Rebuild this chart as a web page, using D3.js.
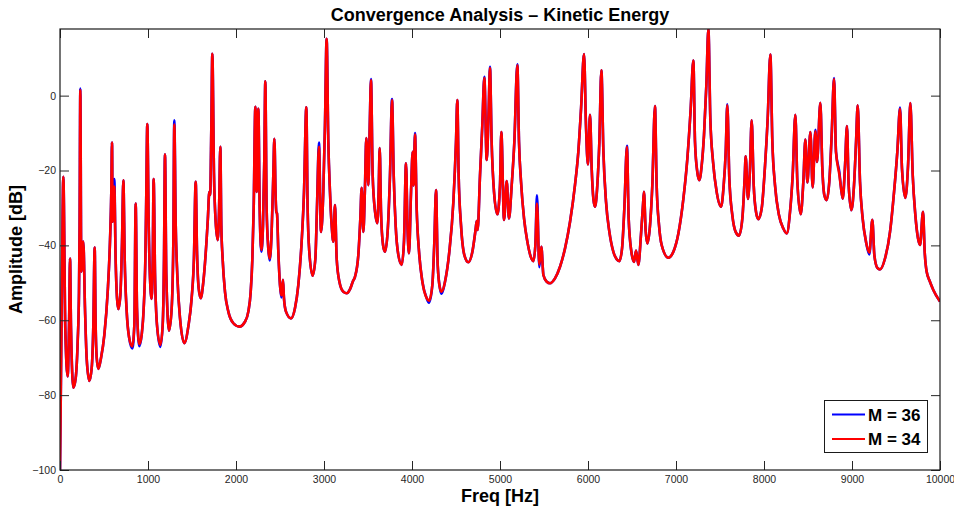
<!DOCTYPE html>
<html>
<head>
<meta charset="utf-8">
<script src="https://cdn.jsdelivr.net/npm/d3@7"></script>
<style>
  html, body { margin: 0; padding: 0; background: #fff; }
  svg { display: block; }
  text { font-family: "Liberation Sans", Arial, Helvetica, sans-serif; }
</style>
</head>
<body>
<svg id="chart" width="954" height="511"></svg>
<script>
// Frequency axis samples [Hz]
const freq = [
  0, 20, 38, 60, 87, 105, 114, 125, 152, 178, 201, 216, 223, 231, 242, 265, 284, 303, 333, 360,
  379, 394, 405, 417, 436, 466, 504, 542, 568, 583, 591, 598, 617, 632, 648, 663, 686, 705, 720, 735,
  758, 784, 822, 845, 860, 875, 901, 928, 951, 970, 981, 992, 1008, 1023, 1042, 1054, 1064, 1080, 1102, 1140,
  1167, 1182, 1193, 1208, 1239, 1269, 1288, 1299, 1315, 1333, 1364, 1413, 1458, 1496, 1522, 1542, 1557, 1576, 1599, 1629,
  1667, 1680, 1697, 1706, 1720, 1731, 1750, 1769, 1792, 1807, 1822, 1833, 1848, 1875, 1913, 1970, 2038, 2102, 2140, 2167,
  2186, 2201, 2220, 2235, 2254, 2269, 2288, 2307, 2322, 2333, 2348, 2367, 2383, 2405, 2424, 2436, 2451, 2458, 2466, 2481,
  2500, 2515, 2534, 2545, 2568, 2625, 2670, 2708, 2746, 2773, 2799, 2814, 2833, 2871, 2902, 2920, 2943, 2966, 2992, 3011,
  3030, 3049, 3068, 3087, 3106, 3125, 3144, 3175, 3220, 3258, 3296, 3330, 3352, 3390, 3413, 3428, 3447, 3465, 3481, 3504,
  3520, 3534, 3553, 3580, 3606, 3621, 3633, 3648, 3671, 3693, 3723, 3750, 3773, 3792, 3814, 3845, 3883, 3909, 3932, 3950,
  3966, 3989, 4008, 4018, 4034, 4053, 4080, 4118, 4167, 4193, 4231, 4254, 4273, 4292, 4318, 4337, 4375, 4424, 4470, 4500,
  4515, 4530, 4557, 4595, 4640, 4686, 4724, 4735, 4746, 4773, 4799, 4822, 4849, 4870, 4886, 4905, 4932, 4970, 5000, 5015,
  5046, 5076, 5102, 5133, 5163, 5197, 5216, 5239, 5273, 5311, 5349, 5379, 5402, 5420, 5447, 5470, 5493, 5531, 5568, 5625,
  5682, 5739, 5796, 5852, 5890, 5921, 5955, 5977, 5999, 6023, 6042, 6061, 6080, 6106, 6129, 6152, 6175, 6205, 6243, 6288,
  6326, 6356, 6387, 6413, 6443, 6462, 6493, 6523, 6546, 6572, 6602, 6625, 6636, 6655, 6675, 6705, 6731, 6761, 6780, 6807,
  6837, 6913, 6970, 7027, 7084, 7129, 7167, 7197, 7216, 7242, 7265, 7292, 7318, 7345, 7368, 7390, 7421, 7462, 7512, 7542,
  7565, 7583, 7606, 7640, 7678, 7716, 7754, 7780, 7792, 7818, 7840, 7860, 7883, 7909, 7936, 7974, 8012, 8042, 8072, 8095,
  8125, 8170, 8220, 8258, 8296, 8326, 8356, 8379, 8417, 8447, 8470, 8493, 8527, 8553, 8584, 8603, 8640, 8663, 8686, 8712,
  8742, 8769, 8796, 8818, 8857, 8876, 8895, 8921, 8943, 8962, 8993, 9023, 9046, 9065, 9091, 9121, 9159, 9197, 9231, 9254,
  9288, 9318, 9375, 9432, 9478, 9515, 9546, 9568, 9606, 9637, 9663, 9690, 9720, 9750, 9773, 9807, 9826, 9848, 9886, 9924,
  10000
];

// Kinetic energy amplitude [dB], M = 34 modes
const m34 = [
  -100, -55, -21.7, -62, -75, -58, -43.5, -62, -78, -75.5, -65.7, -52.4, -34.6, 1.5, -47, -39, -56.8, -70.1, -76.2, -72.8,
  -61.2, -40.6, -61.2, -70, -73, -70.1, -63.9, -52.4, -39, -25.7, -12.5, -33.7, -24.3, -43.5, -54.1, -57, -53.2, -39, -22.6, -43.5,
  -57.7, -64.4, -67, -61.2, -28.8, -56.8, -66.4, -63.9, -56.8, -43.5, -25.7, -7.6, -34.6, -48.8, -54.3, -43.5, -22.3, -47.9, -61.2, -66.6,
  -61.2, -43.5, -15.7, -47.9, -62.8, -56.8, -39, -7.7, -34.6, -47.9, -59.5, -66.1, -61.7, -54.1, -43.5, -23, -41.7, -51.5, -54.1, -49.7,
  -38.1, -33, -25.7, -26.5, -8, 11.2, -21.2, -33.7, -38.6, -31, -13.7, -34.6, -43.5, -52.4, -57.7, -60.8, -61.7, -60.4, -57.7, -52.4,
  -43.5, -30.1, -3.0, -25.7, -3.5, -30.1, -41.2, -34.6, -16.8, 3.8, -30.1, -40.8, -43.5, -36.4, -21.2, -11.5, -27.5, -31, -31.5, -41.7,
  -50.6, -53.4, -49.2, -54.1, -57.7, -59.5, -56.8, -50.6, -39, -25.7, -3.1, -30.1, -41.7, -48.1, -43.5, -30.1, -13.7, -36.4, -25.7, -7.9,
  15.2, -12.4, -25.7, -34.6, -39, -29.2, -43.5, -49.7, -52.4, -52.8, -51.7, -49.5, -48.4, -42.6, -32.8, -24.6, -36.4, -25, -11.3, -23.9,
  -8, 4.1, -21.2, -31, -34.1, -25.7, -14, -31, -39.9, -41.7, -36.4, -21.2, -1.2, -21.2, -34.6, -42.6, -45.2, -39, -18.1, -36,
  -42.1, -25.7, -15, -24, -10.4, -30.1, -41.7, -49.7, -54.1, -54.8, -50.6, -39, -25.2, -45.2, -51.5, -52.4, -49.7, -41.7, -28.4, -12.4,
  -1.2, -21.2, -34.6, -42.6, -44.5, -41.7, -35.5, -33.5, -35.9, -21.2, -7.9, 4.7, -17.2, -5, 7.4, -12.4, -25.7, -31.7, -23.9, -9.7,
  -33.2, -22.8, -32.8, -23.9, -12.4, 8.1, -12.4, -23, -32.8, -39, -43, -44.2, -39.9, -28.8, -45.1, -40.4, -47.9, -49.7, -50.1, -48.8,
  -45.7, -40.8, -33.7, -23.9, -15, -3.5, 11.1, -7.9, -18.4, -5.1, -19.5, -27.5, -29.7, -23.9, -12.4, 6.8, -15, -28.4, -36.4, -41.7,
  -43.7, -44.2, -40.8, -30.1, -13.7, -32.8, -41.7, -44.4, -41.4, -45.2, -37.2, -29.2, -25.7, -36, -39.5, -34.6, -23.9, -2.8, -23.9, -34.6,
  -39.9, -43.3, -41.7, -36.8, -27.5, -16.8, -3.5, 9.4, -12.4, -20.4, -22.6, -18.6, -10.6, 2.8, 17.8, -6.1, -17.7, -25.7, -29.7, -23.9,
  -15, -2.6, -22.1, -31.9, -36.4, -37.4, -32.8, -22.1, -16.2, -27.6, -20, -6.6, -23.9, -31, -33, -30.1, -18.6, -6.1, 11.0, -12.4,
  -23.9, -31.9, -35.5, -36.8, -31, -21.2, -5.1, -23, -31.7, -23, -11.7, -23.2, -9.7, -24.5, -9.5, -17.7, -1.9, -19.5, -26.6, -27.9,
  -23, -10.6, 4.4, -15, -21.2, -24.8, -27.5, -18.6, -8.1, -23.9, -30.6, -23.9, -12.4, -2.6, -23, -32.8, -39, -41.9, -33.2, -42.6,
  -46, -46.4, -43.5, -36.4, -25.7, -15, -3.5, -19.5, -27.3, -18.6, -2.0, -21.2, -31.9, -38.1, -39.9, -31, -41.7, -47, -49.7, -51.9,
  -55
];

// M = 36 differs from M = 34 only at these samples: [Hz, dB]
const m36Diff = [
  [231, 1.9], [617, -22.3], [822, -67.5], [901, -66.9], [1140, -67.1], [1299, -6.6],
  [2288, -41.7], [2383, -44.0], [2515, -53.9], [2943, -12.5], [3534, 4.4], [3773, -0.9],
  [4034, -10.0], [4193, -55.3], [4337, -52.9], [4822, 5.0], [4886, 7.7], [5197, 8.4],
  [5420, -26.6], [5447, -45.8], [6443, -13.4], [7583, -2.3], [8584, -9.1], [8796, 4.7],
  [8857, -20.6], [9197, -42.4], [9546, -3.2]
];

const xTicks = [0, 1000, 2000, 3000, 4000, 5000, 6000, 7000, 8000, 9000, 10000];
const yTicks = [-100, -80, -60, -40, -20, 0];
const seriesNames = ["M = 36", "M = 34"];
const seriesColors = ["#0000ff", "#ff0000"];

const m36Map = new Map(m36Diff);
const m36 = freq.map((f, i) => m36Map.has(f) ? m36Map.get(f) : m34[i]);

const svg = d3.select("#chart");
const plot = { left: 60, right: 940, top: 29, bottom: 470 };

const x = d3.scaleLinear().domain([0, 10000]).range([plot.left, plot.right]);
const y = d3.scaleLinear().domain([-100, 17.8]).range([plot.bottom, plot.top]);

svg.append("defs").append("clipPath").attr("id", "plotClip")
  .append("rect")
  .attr("x", plot.left).attr("y", plot.top)
  .attr("width", plot.right - plot.left).attr("height", plot.bottom - plot.top);

// Curves
const line = d3.line()
  .x(d => x(d[0]))
  .y(d => y(d[1]))
  .curve(d3.curveMonotoneX);

const curves = svg.append("g").attr("clip-path", "url(#plotClip)");
[m36, m34].forEach((vals, k) => {
  curves.append("path")
    .datum(freq.map((f, i) => [f, vals[i]]))
    .attr("fill", "none")
    .attr("stroke", seriesColors[k])
    .attr("stroke-width", 2.6)
    .attr("stroke-linejoin", "round")
    .attr("d", line);
});

// Axes (ticks point inward, mirrored on all four sides)
const tickColor = "#262626";
function styleAxis(g, hideLabels) {
  g.select(".domain").remove();
  g.selectAll(".tick line").attr("stroke", tickColor).attr("stroke-width", 1);
  g.selectAll(".tick text").attr("fill", tickColor).style("font-size", "10.5px");
  if (hideLabels) g.selectAll(".tick text").remove();
}

svg.append("g")
  .attr("transform", `translate(0,${plot.bottom})`)
  .call(d3.axisBottom(x).tickValues(xTicks).tickSizeInner(-9).tickSizeOuter(0).tickPadding(6).tickFormat(d3.format("d")))
  .call(g => styleAxis(g, false));

svg.append("g")
  .attr("transform", `translate(0,${plot.top})`)
  .call(d3.axisTop(x).tickValues(xTicks).tickSizeInner(-9).tickSizeOuter(0))
  .call(g => styleAxis(g, true));

svg.append("g")
  .attr("transform", `translate(${plot.left},0)`)
  .call(d3.axisLeft(y).tickValues(yTicks).tickSizeInner(-9).tickSizeOuter(0).tickPadding(4)
    .tickFormat(d => d < 0 ? "\u2212" + Math.abs(d) : String(d)))
  .call(g => styleAxis(g, false));

svg.append("g")
  .attr("transform", `translate(${plot.right},0)`)
  .call(d3.axisRight(y).tickValues(yTicks).tickSizeInner(-9).tickSizeOuter(0))
  .call(g => styleAxis(g, true));

// Frame
svg.append("rect")
  .attr("x", plot.left).attr("y", plot.top)
  .attr("width", plot.right - plot.left).attr("height", plot.bottom - plot.top)
  .attr("fill", "none").attr("stroke", "#1a1a1a").attr("stroke-width", 1.2);

// Titles
svg.append("text")
  .attr("x", (plot.left + plot.right) / 2).attr("y", 21)
  .attr("text-anchor", "middle")
  .style("font-size", "18px").style("font-weight", "bold")
  .text("Convergence Analysis \u2013 Kinetic Energy");

svg.append("text")
  .attr("x", (plot.left + plot.right) / 2).attr("y", 502)
  .attr("text-anchor", "middle")
  .style("font-size", "18px").style("font-weight", "bold")
  .text("Freq [Hz]");

svg.append("text")
  .attr("transform", `translate(22,${(plot.top + plot.bottom) / 2}) rotate(-90)`)
  .attr("text-anchor", "middle")
  .style("font-size", "18px").style("font-weight", "bold")
  .text("Amplitude [dB]");

// Legend
const legend = svg.append("g");
legend.append("rect")
  .attr("x", 824.5).attr("y", 400.5).attr("width", 103).attr("height", 52)
  .attr("fill", "#fff").attr("stroke", "#1a1a1a").attr("stroke-width", 1);
seriesNames.forEach((name, i) => {
  const ly = 414.5 + i * 24.5;
  legend.append("line")
    .attr("x1", 832).attr("x2", 865).attr("y1", ly).attr("y2", ly)
    .attr("stroke", seriesColors[i]).attr("stroke-width", 2.2);
  legend.append("text")
    .attr("x", 868).attr("y", ly + 6.2)
    .style("font-size", "17px").style("font-weight", "bold")
    .text(name);
});
</script>
</body>
</html>
